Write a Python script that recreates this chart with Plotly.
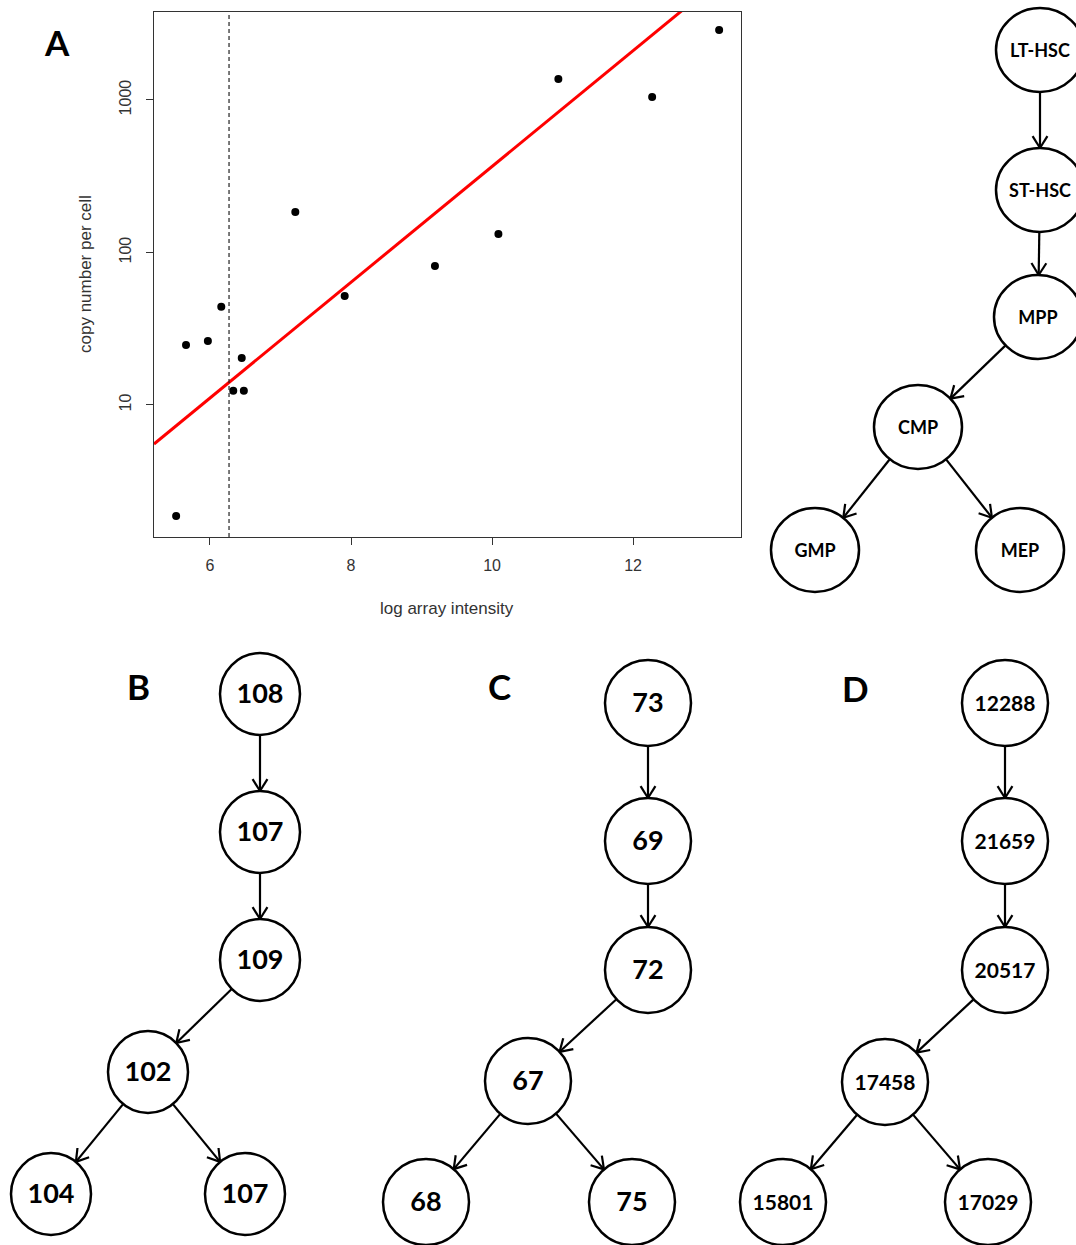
import numpy as np
import plotly.graph_objects as go

W, H = 1076, 1245

# ---------------- Panel A: scatter data ----------------
log_intensity = [5.52, 5.66, 5.97, 6.16, 6.45, 6.33, 6.48, 7.21, 7.91, 9.19, 10.09, 10.94, 12.27, 13.22]
copy_number = [1.87, 24.7, 26.3, 44.0, 20.3, 12.4, 12.4, 184, 51.9, 81.5, 132, 1373, 1047, 2878]
fit_intercept = -1.233   # log10(copy) = intercept + slope * intensity
fit_slope = 0.3797
threshold = 6.27
x_ticks = [6, 8, 10, 12]
y_ticks = [10, 100, 1000]

# ---------------- Trees ----------------
tree_parents = [None, 0, 1, 2, 3, 3]
tree_A_labels = ["LT-HSC", "ST-HSC", "MPP", "CMP", "GMP", "MEP"]
tree_B_labels = ["108", "107", "109", "102", "104", "107"]
tree_C_labels = ["73", "69", "72", "67", "68", "75"]
tree_D_labels = ["12288", "21659", "20517", "17458", "15801", "17029"]
panel_letters = ["A", "B", "C", "D"]

# layout (pixel positions of node centres for each tree)
tree_layouts = {
    "A": dict(xs=[1040, 1040, 1038, 918, 815, 1020], ys=[50, 190, 317, 427, 550, 550], rx=44, ry=42, fs=18),
    "B": dict(xs=[260, 260, 260, 148, 51, 245], ys=[694, 832, 960, 1072, 1194, 1194], rx=40, ry=41, fs=27),
    "C": dict(xs=[648, 648, 648, 528, 426, 632], ys=[703, 841, 970, 1081, 1202, 1202], rx=43, ry=43, fs=27),
    "D": dict(xs=[1005, 1005, 1005, 885, 783, 988], ys=[703, 841, 970, 1082, 1202, 1202], rx=43, ry=43, fs=21),
}
tree_labels = {"A": tree_A_labels, "B": tree_B_labels, "C": tree_C_labels, "D": tree_D_labels}
letter_pos = {"A": (57, 42), "B": (138, 686), "C": (499, 686), "D": (855, 688)}
text_dy = 2.5

fig = go.Figure()

# scatter points
fig.add_trace(go.Scatter(
    x=log_intensity, y=copy_number, mode="markers",
    marker=dict(color="black", size=8), xaxis="x", yaxis="y", showlegend=False, hoverinfo="skip"))

# fitted line
xr = [5.206, 13.53]
fig.add_trace(go.Scatter(
    x=xr, y=[10 ** (fit_intercept + fit_slope * v) for v in xr], mode="lines",
    line=dict(color="#ff0000", width=3), xaxis="x", yaxis="y", showlegend=False, hoverinfo="skip"))

shapes = []
shapes.append(dict(type="line", xref="x", yref="y domain", x0=threshold, x1=threshold, y0=0, y1=1,
                   line=dict(color="#222", width=1.2, dash="4px,3px")))

# trees on a pixel-space overlay axis
edge_x, edge_y = [], []
annotations = []
for key, lay in tree_layouts.items():
    xs, ys, rx, ry = lay["xs"], lay["ys"], lay["rx"], lay["ry"]
    labels = tree_labels[key]
    for i in range(len(xs)):
        shapes.append(dict(type="circle", xref="x2", yref="y2",
                           x0=xs[i] - rx, x1=xs[i] + rx, y0=ys[i] - ry, y1=ys[i] + ry,
                           line=dict(color="black", width=2.5), fillcolor="rgba(0,0,0,0)"))
    for i, p in enumerate(tree_parents):
        if p is None:
            continue
        dx, dy = xs[i] - xs[p], ys[i] - ys[p]
        L = np.hypot(dx, dy)
        ux, uy = dx / L, dy / L
        sx, sy = xs[p] + ux * rx, ys[p] + uy * ry
        ex, ey = xs[i] - ux * rx, ys[i] - uy * ry
        edge_x += [sx, ex, None]
        edge_y += [sy, ey, None]
        # open V arrow head
        hl, ang = 14, np.radians(32)
        for s in (1, -1):
            c, sn = np.cos(s * ang), np.sin(s * ang)
            bx = -(ux * c - uy * sn) * hl
            by = -(ux * sn + uy * c) * hl
            edge_x += [ex, ex + bx, None]
            edge_y += [ey, ey + by, None]
    fig.add_trace(go.Scatter(
        x=xs, y=[v + text_dy for v in ys], mode="text", text=labels,
        textfont=dict(family="Lato, Open Sans, sans-serif", size=lay["fs"], color="black", weight="bold"),
        xaxis="x2", yaxis="y2", showlegend=False, hoverinfo="skip", cliponaxis=False))

fig.add_trace(go.Scatter(
    x=edge_x, y=edge_y, mode="lines", line=dict(color="black", width=2.2),
    xaxis="x2", yaxis="y2", showlegend=False, hoverinfo="skip"))

for k in panel_letters:
    px, py = letter_pos[k]
    annotations.append(dict(x=px / W, y=1 - py / H, xref="paper", yref="paper", text=k, showarrow=False,
                            xanchor="center", yanchor="middle",
                            font=dict(family="Lato, Open Sans, sans-serif", size=35, color="black", weight="bold")))

# axis titles for panel A
annotations.append(dict(x=447 / W, y=1 - 608 / H, xref="paper", yref="paper", text="log array intensity",
                        showarrow=False, xanchor="center", yanchor="middle",
                        font=dict(family="Liberation Sans, Arial, sans-serif", size=17, color="#333")))
annotations.append(dict(x=85 / W, y=1 - 274 / H, xref="paper", yref="paper", text="copy number per cell",
                        showarrow=False, xanchor="center", yanchor="middle", textangle=-90,
                        font=dict(family="Liberation Sans, Arial, sans-serif", size=17, color="#333")))

axis_font = dict(family="Liberation Sans, Arial, sans-serif", size=16, color="#333")
fig.update_layout(
    width=W, height=H, autosize=False,
    margin=dict(l=0, r=0, t=0, b=0, pad=0),
    paper_bgcolor="white", plot_bgcolor="rgba(0,0,0,0)",
    showlegend=False,
    xaxis=dict(domain=[154 / W, 741 / W], range=xr, tickvals=x_ticks, ticktext=[str(t) for t in x_ticks],
               ticks="outside", ticklen=7, tickcolor="#333", showline=True, mirror=True,
               linecolor="#333", linewidth=1.2, showgrid=False, zeroline=False, tickfont=axis_font,
               ticklabelstandoff=7, anchor="y"),
    yaxis=dict(domain=[1 - 537 / H, 1 - 12 / H], type="log", range=[0.134, 3.577], tickvals=y_ticks,
               ticktext=[str(t) for t in y_ticks], tickangle=-90,
               ticks="outside", ticklen=7, tickcolor="#333", showline=True, mirror=True,
               linecolor="#333", linewidth=1.2, showgrid=False, zeroline=False, tickfont=axis_font,
               ticklabelstandoff=9, anchor="x"),
    xaxis2=dict(domain=[0, 1], range=[0, W], visible=False, anchor="y2", fixedrange=True),
    yaxis2=dict(domain=[0, 1], range=[H, 0], visible=False, anchor="x2", fixedrange=True),
    shapes=shapes, annotations=annotations,
)

fig.write_html("out.html", config={"displayModeBar": False},
               post_script="document.body.style.margin='0';")
